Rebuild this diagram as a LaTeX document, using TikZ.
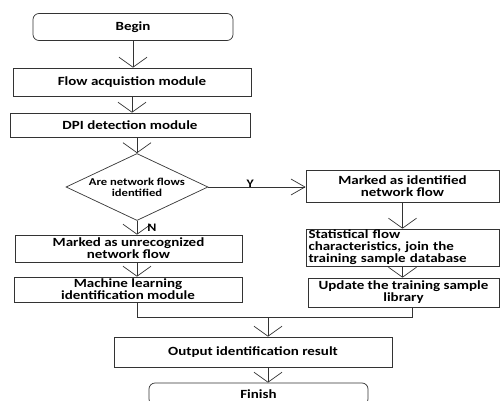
\documentclass[tikz,border=0pt]{standalone}
\usepackage{fontspec}
\setmainfont{Carlito}[FakeStretch=1.2]
\usetikzlibrary{shapes.geometric}
\usetikzlibrary{arrows.meta}

\begin{document}
\begin{tikzpicture}[x=1pt,y=-1pt,
                    box/.style={draw=black!80,line width=0.7pt,inner sep=0pt,align=center,
                                font=\bfseries\fontsize{12.5}{12}\selectfont},
                    termbox/.style={box,rounded corners=6pt},
                    decbox/.style={box,diamond,aspect=2.1,font=\bfseries\fontsize{10.5}{11}\selectfont},
                    flowarrow/.style={draw=black!80,line width=0.7pt,-{Straight Barb[length=10pt,width=28pt]}},
                    sidearrow/.style={draw=black!80,line width=0.7pt,-{Straight Barb[length=14pt,width=16pt]}},
                    joinline/.style={draw=black!80,line width=0.7pt},
                    yn/.style={font=\bfseries\fontsize{11.5}{11}\selectfont,inner sep=1pt}]
                    \useasboundingbox (0,0) rectangle (500,401);
                    \clip (0,0) rectangle (500,401);
                    % left column
                    \node[termbox,minimum width=200pt,minimum height=27pt] (begin) at (133,27) {Begin};
                    \node[box,minimum width=238pt,minimum height=28pt] (flow) at (132,82) {Flow acquistion module};
                    \node[box,minimum width=240pt,minimum height=24pt] (dpi) at (130,125) {DPI detection module};
                    \node[decbox,minimum width=142pt,minimum height=67pt] (ask) at (137,187) {Are network flows\\identified};
                    \node[box,minimum width=227pt,minimum height=27pt] (unrec) at (128.5,248.5) {Marked as unrecognized\\network flow};
                    \node[box,minimum width=228pt,minimum height=25pt] (ml) at (128,289.5) {Machine learning\\identification module};
                    % right column
                    \node[box,minimum width=193pt,minimum height=32pt] (ident) at (402.5,186) {Marked as identified\\network flow};
                    \node[box,minimum width=193pt,minimum height=37pt,text width=188pt,align=left] (stat) at (402.5,247.5)
                        {Statistical flow\\characteristics, join the\\training sample database};
                    \node[box,minimum width=191pt,minimum height=29pt] (update) at (403.5,292.5) {Update the training sample\\library};
                    % bottom
                    \node[box,minimum width=278pt,minimum height=30pt] (output) at (253,352) {Output identification result};
                    \node[termbox,minimum width=219pt,minimum height=22pt] (finish) at (258.5,394) {Finish};
                    \coordinate (join) at (268,317);

                    \draw[flowarrow] (begin) -- (begin |- flow.north);
                    \draw[flowarrow] (flow) -- (flow |- dpi.north);
                    \draw[flowarrow] (ask |- dpi.south) -- (ask.north);
                    \draw[sidearrow] (ask.east) -- node[yn,pos=0.43,yshift=3pt] {Y} (ask.east -| ident.west);
                    \draw[flowarrow] (ask.south) -- node[yn,pos=0.5,xshift=15pt] {N} (ask |- unrec.north);
                    \draw[flowarrow] (ask |- unrec.south) -- (ask |- ml.north);
                    \draw[flowarrow] (ident) -- (ident |- stat.north);
                    \draw[flowarrow] (stat) -- (stat |- update.north);
                    \draw[joinline] (ask |- ml.south) |- (join);
                    \draw[joinline] ([xshift=9pt]update.south) |- (join);
                    \draw[flowarrow] (join) -- (join |- output.north);
                    \draw[flowarrow] (join |- output.south) -- (join |- finish.north);
                \end{tikzpicture}
\end{document}
